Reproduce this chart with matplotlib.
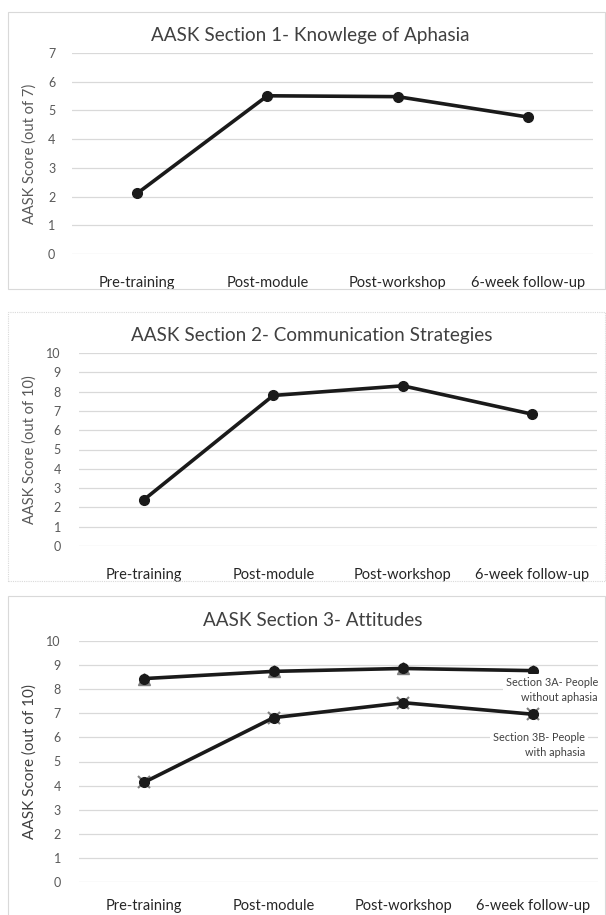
import matplotlib
matplotlib.use("Agg")
import matplotlib.pyplot as plt
from matplotlib.patches import Rectangle

plt.rcParams['font.family'] = ['Lato', 'DejaVu Sans']

categories = ["Pre-training", "Post-module", "Post-workshop", "6-week follow-up"]

knowledge_scores = [2.11, 5.51, 5.48, 4.77]
strategy_scores = [2.39, 7.80, 8.30, 6.83]
attitudes_without = [8.44, 8.74, 8.86, 8.77]
attitudes_with = [4.13, 6.82, 7.44, 6.96]

W, H = 606, 915
fig = plt.figure(figsize=(W / 100, H / 100), dpi=100)

GRID = "#d9d9d9"
TICK = "#595959"
LINE = "#1a1a1a"


def px_axes(x0, y0, x1, y1):
    return fig.add_axes([x0 / W, 1 - y1 / H, (x1 - x0) / W, (y1 - y0) / H])


def frame(x0, y0, x1, y1, ls="-"):
    fig.patches.append(Rectangle((x0 / W, 1 - y1 / H), (x1 - x0) / W, (y1 - y0) / H,
                                 transform=fig.transFigure, fill=False,
                                 edgecolor="#d9d9d9", lw=0.8, linestyle=ls))


def style(ax, left, right, ymax, ylabel, ypad, xpad=16, yl_fs=10.5, yl_color=TICK):
    ax.set_xlim(-0.5, len(categories) - 0.5)
    ax.set_ylim(0, ymax)
    ax.set_yticks(range(0, ymax + 1))
    ax.set_xticks(range(len(categories)))
    ax.set_xticklabels(categories, fontsize=10.5, color="#262626")
    ax.tick_params(axis="y", length=0, labelsize=9, labelcolor=TICK, pad=ypad)
    ax.tick_params(axis="x", length=0, pad=xpad)
    for s in ax.spines.values():
        s.set_visible(False)
    ax.grid(axis="y", color=GRID, lw=0.9)
    ax.set_axisbelow(True)
    ax.set_ylabel(ylabel, fontsize=yl_fs, color=yl_color)
    ax.yaxis.set_label_coords((37 - left) / (right - left), 0.5)


x = list(range(len(categories)))

# Section 1
frame(8, 12, 605, 289)
ax1 = px_axes(72, 53, 593, 254)
style(ax1, 72, 593, 7, "AASK Score (out of 7)", ypad=12)
ax1.plot(x, knowledge_scores, color=LINE, lw=2.6, marker="o", ms=7, zorder=3)
fig.text(310 / W, 1 - 36 / H, "AASK Section 1- Knowlege of Aphasia", ha="center", va="center",
         fontsize=13.6, color="#404040")

# Section 2
frame(8, 312, 605, 581, ls=(0, (1, 1)))
ax2 = px_axes(79, 353, 597, 546)
style(ax2, 79, 597, 10, "AASK Score (out of 10)", ypad=13)
ax2.plot(x, strategy_scores, color=LINE, lw=2.6, marker="o", ms=7, zorder=3)
fig.text(312 / W, 1 - 336 / H, "AASK Section 2- Communication Strategies", ha="center",
         va="center", fontsize=13.6, color="#404040")

# Section 3
frame(8, 596, 605, 930)
ax3 = px_axes(79, 641, 598, 882)
style(ax3, 79, 598, 10, "AASK Score (out of 10)", ypad=13, xpad=12, yl_fs=11, yl_color="#404040")
ax3.plot(x, attitudes_without, color="#7f7f7f", lw=0, marker="^", ms=9, zorder=2)
ax3.plot(x, attitudes_without, color=LINE, lw=2.6, marker="o", ms=7, zorder=3)
ax3.plot(x, attitudes_with, color="#7f7f7f", lw=0, marker="x", ms=8, mew=1.5, zorder=2)
ax3.plot(x, attitudes_with, color=LINE, lw=2.6, marker="o", ms=7, zorder=3)
fig.text(313 / W, 1 - 621 / H, "AASK Section 3- Attitudes", ha="center", va="center",
         fontsize=13.6, color="#404040")

box = dict(boxstyle="square,pad=0.3", fc="white", ec="none")
ax3.text(598 / W, 1 - 690 / H, "Section 3A- People\nwithout aphasia", transform=fig.transFigure,
         ha="right", va="center", fontsize=7.8, color="#404040", linespacing=1.45, bbox=box)
ax3.text(585 / W, 1 - 745 / H, "Section 3B- People\nwith aphasia", transform=fig.transFigure,
         ha="right", va="center", fontsize=7.8, color="#404040", linespacing=1.45, bbox=box)

fig.savefig("out.png", dpi=100)
